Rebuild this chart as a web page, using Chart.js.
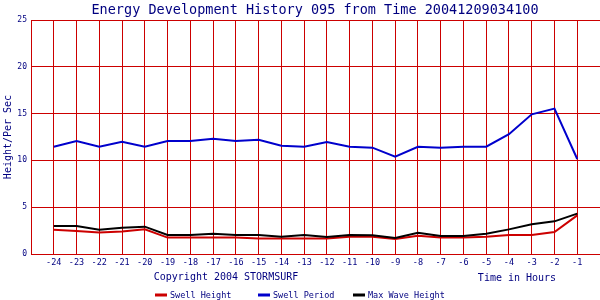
<!DOCTYPE html>
<html>
<head>
<meta charset="utf-8">
<script src="https://cdn.jsdelivr.net/npm/chart.js@4/dist/chart.umd.min.js"></script>
<style>
  html, body { margin: 0; padding: 0; background: #ffffff; }
  canvas { display: block; }
</style>
</head>
<body>
<canvas id="c" width="600" height="300"></canvas>
<script>
const hours = [-24,-23,-22,-21,-20,-19,-18,-17,-16,-15,-14,-13,-12,-11,-10,-9,-8,-7,-6,-5,-4,-3,-2,-1];
const swellHeight = [2.6,2.46,2.3,2.4,2.65,1.75,1.75,1.75,1.75,1.65,1.65,1.65,1.65,1.85,1.85,1.6,1.95,1.75,1.75,1.85,2.03,2.03,2.35,4.13];
const swellPeriod = [11.46,12.07,11.46,12.0,11.46,12.07,12.07,12.3,12.07,12.2,11.57,11.46,11.97,11.46,11.36,10.4,11.46,11.36,11.46,11.46,12.8,14.92,15.53,10.15];
const maxWaveHeight = [2.99,2.99,2.6,2.81,2.92,2.03,2.03,2.17,2.03,2.03,1.85,2.03,1.82,2.03,2.0,1.71,2.28,1.92,1.92,2.17,2.63,3.17,3.49,4.31];
const yTicks = [0,5,10,15,20,25];

const titleText = 'Energy Development History 095 from Time 20041209034100';
const yTitle = 'Height/Per Sec';
const copyrightText = 'Copyright 2004 STORMSURF';
const xTitle = 'Time in Hours';
const seriesNames = ['Swell Height','Swell Period','Max Wave Height'];

const NAVY = '#000080';
const GRID = '#cc0000';
const COLORS = ['#cc0000','#0000cc','#000000'];
const MONO = '"DejaVu Sans Mono", "Liberation Mono", monospace';

const toPts = arr => hours.map((h,i) => ({x:h, y:arr[i]}));

const decor = {
  id: 'decor',
  beforeDraw(chart) {
    const ctx = chart.ctx;
    ctx.save();
    ctx.fillStyle = '#ffffff';
    ctx.fillRect(0,0,chart.width,chart.height);
    ctx.restore();
  },
  afterDraw(chart) {
    const ctx = chart.ctx;
    const ca = chart.chartArea;
    ctx.save();
    ctx.fillStyle = NAVY;
    ctx.textBaseline = 'middle';
    ctx.font = '13.5px ' + MONO;
    ctx.textAlign = 'center';
    ctx.fillText(titleText, 315, 10);
    ctx.save();
    ctx.translate(8, (ca.top + ca.bottom)/2);
    ctx.rotate(-Math.PI/2);
    ctx.font = '10px ' + MONO;
    ctx.fillText(yTitle, 0, 0);
    ctx.restore();
    ctx.font = '10px ' + MONO;
    ctx.fillText(copyrightText, 226, 277);
    ctx.fillText(xTitle, 517, 278);
    const lx = [155, 258, 353];
    ctx.font = '8.5px ' + MONO;
    ctx.textAlign = 'left';
    for (let i = 0; i < 3; i++) {
      ctx.strokeStyle = COLORS[i];
      ctx.lineWidth = 3;
      ctx.beginPath();
      ctx.moveTo(lx[i], 295);
      ctx.lineTo(lx[i] + 12, 295);
      ctx.stroke();
      ctx.fillStyle = NAVY;
      ctx.fillText(seriesNames[i], lx[i] + 15, 295.5);
    }
    ctx.restore();
  }
};

new Chart(document.getElementById('c'), {
  type: 'line',
  data: {
    datasets: [
      { label: seriesNames[0], data: toPts(swellHeight), borderColor: COLORS[0], backgroundColor: COLORS[0], order: 2 },
      { label: seriesNames[1], data: toPts(swellPeriod), borderColor: COLORS[1], backgroundColor: COLORS[1], order: 3 },
      { label: seriesNames[2], data: toPts(maxWaveHeight), borderColor: COLORS[2], backgroundColor: COLORS[2], order: 1 }
    ]
  },
  options: {
    responsive: false,
    animation: false,
    devicePixelRatio: 1,
    layout: { padding: { top: 20, right: -2, left: 0, bottom: 0 } },
    elements: {
      point: { radius: 0, hoverRadius: 0 },
      line: { borderWidth: 2, tension: 0 }
    },
    plugins: {
      legend: { display: false },
      title: { display: false },
      tooltip: { enabled: false }
    },
    scales: {
      x: {
        type: 'linear',
        min: -25,
        max: 0,
        afterFit(scale) { scale.height = 46; scale.paddingRight = 0; },
        afterBuildTicks(scale) {
          const t = [];
          for (let v = -25; v <= 0; v++) t.push({ value: v });
          scale.ticks = t;
        },
        ticks: {
          autoSkip: false,
          maxRotation: 0,
          padding: 4,
          color: NAVY,
          font: { family: MONO, size: 8.5 },
          callback: (v) => (hours.includes(v) ? String(v) : '')
        },
        grid: { color: GRID, lineWidth: 1, drawTicks: false },
        border: { color: GRID, width: 1 }
      },
      y: {
        min: 0,
        max: 25,
        afterFit(scale) { scale.width = 31; },
        afterBuildTicks(scale) { scale.ticks = yTicks.map(v => ({ value: v })); },
        ticks: {
          padding: 4,
          color: NAVY,
          font: { family: MONO, size: 8 }
        },
        grid: { color: GRID, lineWidth: 1, drawTicks: false },
        border: { color: GRID, width: 1 }
      }
    }
  },
  plugins: [decor]
});
</script>
</body>
</html>
